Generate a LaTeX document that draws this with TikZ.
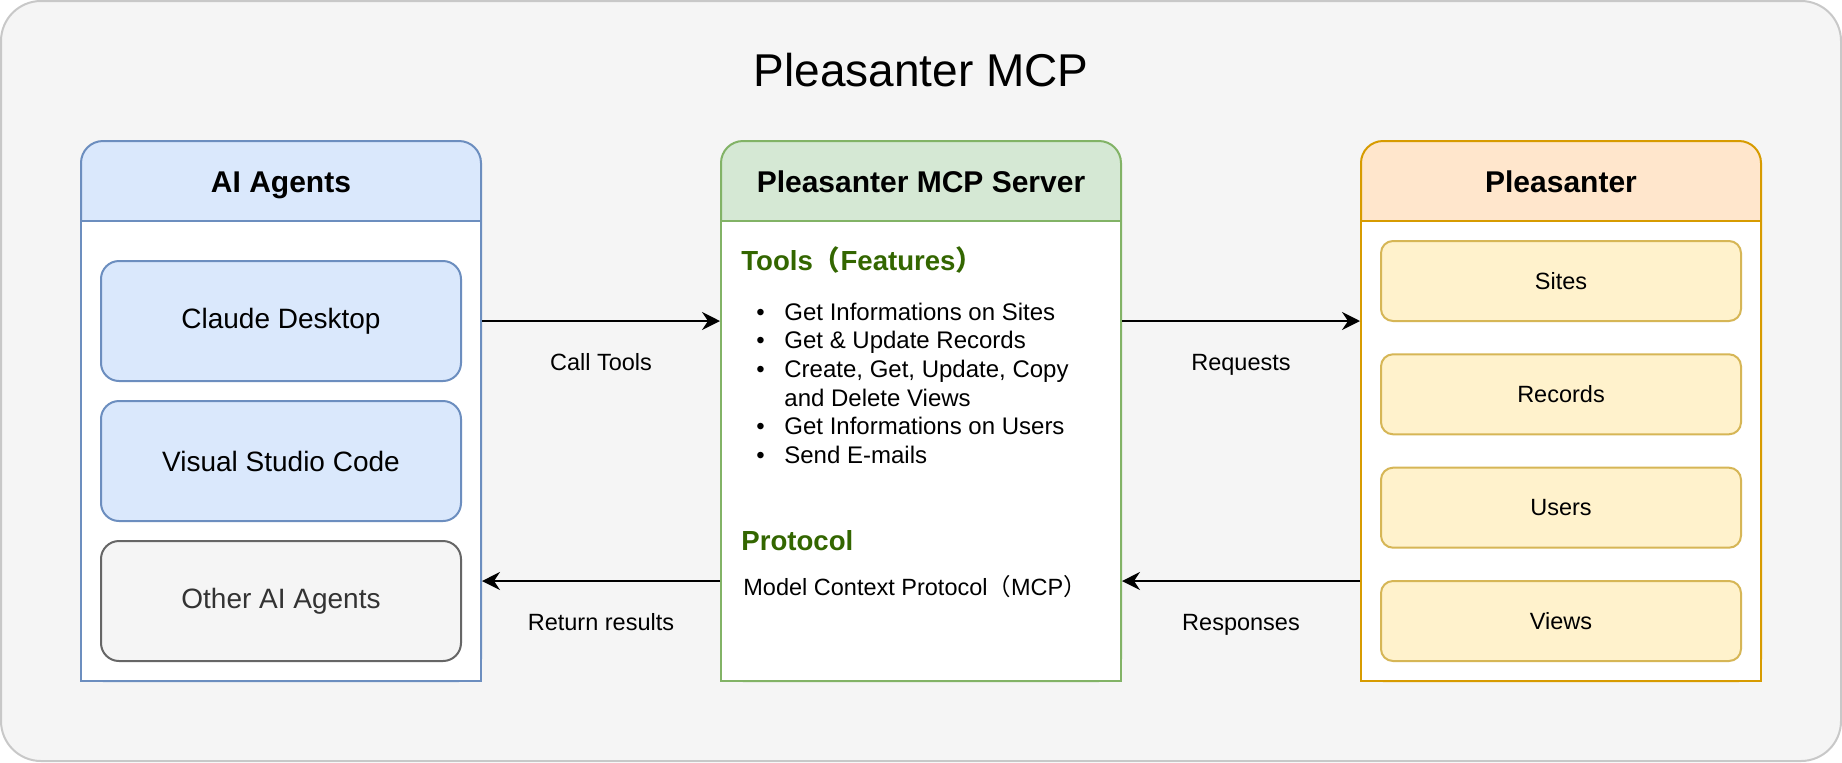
\documentclass[tikz,border=0pt]{standalone}
\usepackage{fontspec}
\setmainfont{Liberation Sans}
\newfontfamily\cjk{Noto Sans CJK JP}
\usetikzlibrary{positioning,arrows.meta}

\definecolor{bgpanel}{HTML}{F5F5F5}
\definecolor{framegray}{HTML}{C8C8C8}
\definecolor{bluefill}{HTML}{DAE8FC}
\definecolor{blueline}{HTML}{6C8EBF}
\definecolor{greenfill}{HTML}{D5E8D4}
\definecolor{greenline}{HTML}{82B366}
\definecolor{orangefill}{HTML}{FFE6CC}
\definecolor{orangeline}{HTML}{D79B00}
\definecolor{yellowfill}{HTML}{FFF2CC}
\definecolor{yellowline}{HTML}{D6B656}
\definecolor{grayline}{HTML}{666666}
\definecolor{graytext}{HTML}{333333}
\definecolor{featgreen}{HTML}{336600}

% full-width brackets
\newcommand{\fwopen}{{\cjk （}}
\newcommand{\fwclose}{{\cjk ）}}

\begin{document}
\begin{tikzpicture}[x=0.5pt,y=-0.5pt,
		lane/.style={draw,line width=1pt,rounded corners=11pt,minimum width=200pt,minimum height=270pt,inner sep=0pt},
		lanebody/.style={draw,fill=white,line width=1pt,minimum width=200pt,minimum height=230pt,inner sep=0pt},
		lanetitle/.style={anchor=base,inner sep=0pt,font=\fontsize{15}{18}\selectfont\bfseries},
		agentbox/.style={draw=blueline,fill=bluefill,line width=1pt,rounded corners=9pt,minimum width=180pt,minimum height=60pt,font=\fontsize{14}{17}\selectfont},
		plsitem/.style={draw=yellowline,fill=yellowfill,line width=1pt,rounded corners=6pt,minimum width=180pt,minimum height=40pt,font=\fontsize{11.75}{14}\selectfont},
		sectitle/.style={anchor=base west,inner sep=0pt,text=featgreen,font=\fontsize{13.8}{16}\selectfont\bfseries},
		flowarrow/.style={-{Stealth[length=9pt,width=9pt,inset=3pt]},line width=1pt},
		flowlabel/.style={midway,anchor=base,inner sep=0pt,yshift=-24.5pt,font=\fontsize{11.75}{14}\selectfont},
		]
		
		\useasboundingbox (0,0) rectangle (1842,762);
		
		\node[draw=framegray,fill=bgpanel,line width=1pt,rounded corners=20pt,minimum width=920pt,minimum height=380pt] (frame) at (921,381) {};
		
		\node[font=\fontsize{23}{28}\selectfont] (title) at (921,70)
		{Pleasanter MCP};
		
		% AI agents
		\node[lane,draw=blueline,fill=bluefill] (ai) at (281,411) {};
		\node[lanebody,draw=blueline] (aibody) at (281,451) {};
		\node[lanetitle] (aititle) at (281,192.7)
		{AI Agents};
		
		\node[agentbox] (claude) at (281,321)
		{Claude Desktop};
		
		\node[agentbox] (vscode) at (281,461)
		{Visual Studio Code};
		
		\node[agentbox,draw=grayline,fill=bgpanel,text=graytext] (otherai) at (281,601)
		{Other AI Agents};
		
		% MCP server
		\node[lane,draw=greenline,fill=greenfill] (srv) at (921,411) {};
		\node[lanebody,draw=greenline] (srvbody) at (921,451) {};
		\node[lanetitle] (srvtitle) at (921,192.7)
		{Pleasanter MCP Server};
		
		\node[sectitle] (tools) at (741,270.7)
		{Tools\fwopen Features\fwclose};
		
		\node[anchor=base west,inner sep=0pt,font=\fontsize{12}{14.35}\selectfont] (toollist) at (756,320)
		{\begin{tabular}[t]{@{}p{14pt}@{}l@{}}
				• & Get Informations on Sites\\
				• & Get \& Update Records\\
				• & Create, Get, Update, Copy\\
				& and Delete Views\\
				• & Get Informations on Users\\
				• & Send E-mails
		\end{tabular}};
		
		\node[sectitle] (protocol) at (741,550)
		{Protocol};
		
		\node[anchor=base west,inner sep=0pt,font=\fontsize{11.75}{14}\selectfont] (mcp) at (743,595.7)
		{Model Context Protocol\fwopen MCP\fwclose};
		
		% Pleasanter
		\node[lane,draw=orangeline,fill=orangefill] (pls) at (1561,411) {};
		\node[lanebody,draw=orangeline] (plsbody) at (1561,451) {};
		\node[lanetitle] (plstitle) at (1561,192.7)
		{Pleasanter};
		
		\node[plsitem] (sites) at (1561,281) {Sites};
		\node[plsitem] (records) at (1561,394.3) {Records};
		\node[plsitem] (users) at (1561,507.7) {Users};
		\node[plsitem] (views) at (1561,621) {Views};
		
		% connectors
		\coordinate (upper) at (0,321);
		\coordinate (lower) at (0,581);
		
		\draw[flowarrow]
		(aibody.east |- upper)--node[flowlabel]
		{Call Tools}
		(srvbody.west |- upper);
		
		\draw[flowarrow]
		(srvbody.east |- upper)--node[flowlabel]
		{Requests}
		(plsbody.west |- upper);
		
		\draw[flowarrow]
		(plsbody.west |- lower)--node[flowlabel]
		{Responses}
		(srvbody.east |- lower);
		
		\draw[flowarrow]
		(srvbody.west |- lower)--node[flowlabel]
		{Return results}
		(aibody.east |- lower);
		
	\end{tikzpicture}
\end{document}
